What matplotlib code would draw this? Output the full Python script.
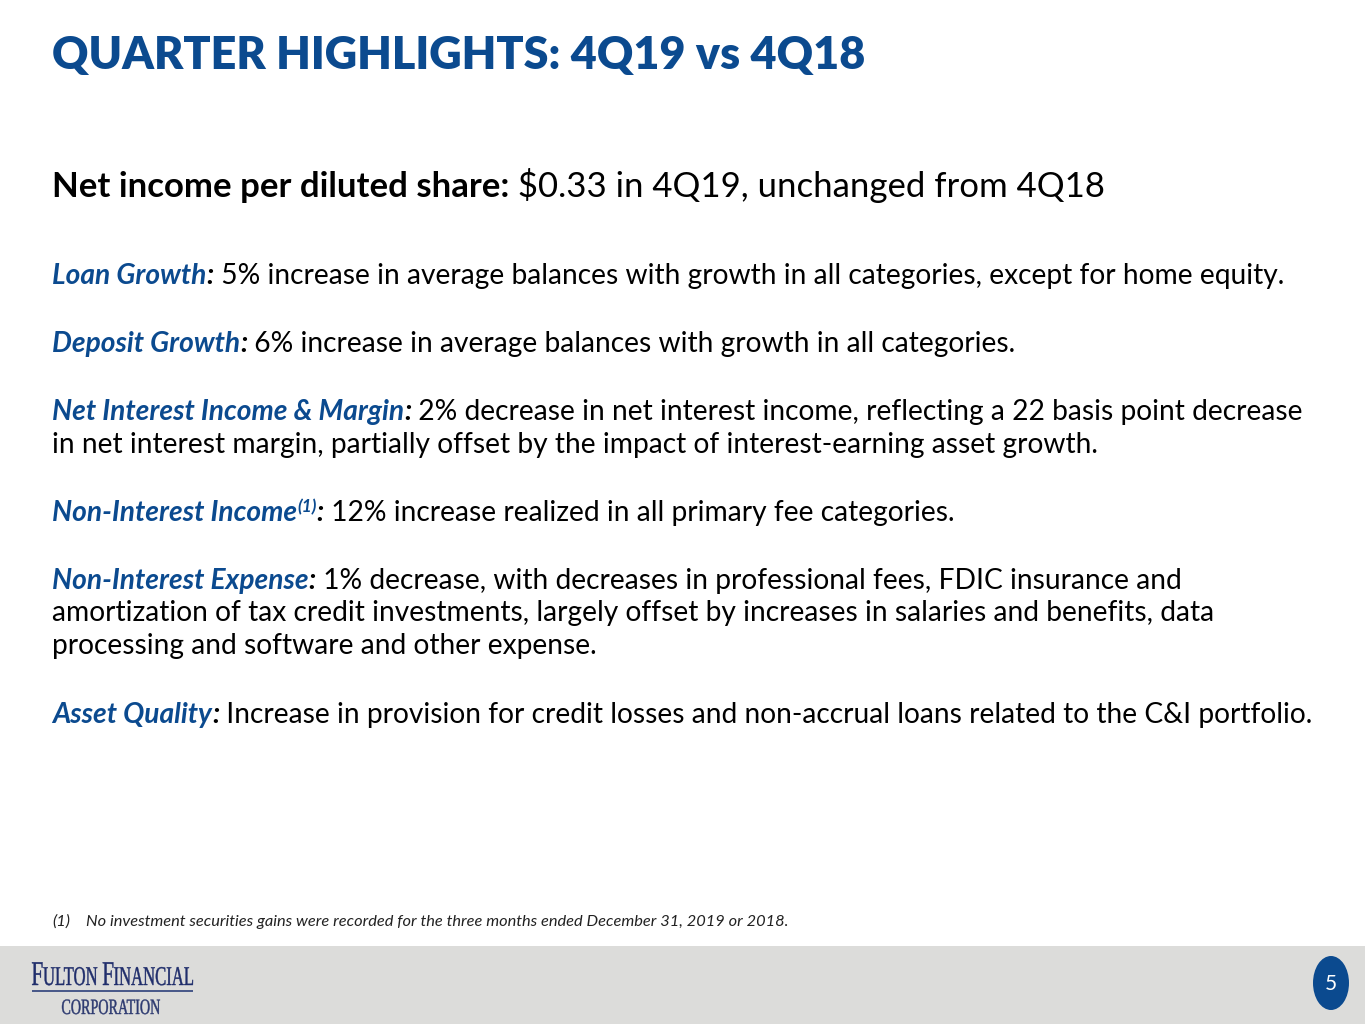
import matplotlib
matplotlib.use("Agg")
import matplotlib.pyplot as plt
from matplotlib.patches import Rectangle, Ellipse, PathPatch
from matplotlib.textpath import TextPath
from matplotlib.font_manager import FontProperties
from matplotlib.transforms import Affine2D

W, H = 1365, 1024
BLUE = "#0b4a8f"
NAVY = "#1f2d6b"
FONT = "Lato"

title = "QUARTER HIGHLIGHTS: 4Q19 vs 4Q18"
eps_label = "Net income per diluted share:"
eps_text = " \\$0.33 in 4Q19, unchanged from 4Q18"

labels = ["Loan Growth", "Deposit Growth", "Net Interest Income & Margin",
          "Non-Interest Income", "Non-Interest Expense", "Asset Quality"]
footnote_flag = [False, False, False, True, False, False]
bodies = [
    ["5% increase in average balances with growth in all categories, except for home equity."],
    ["6% increase in average balances with growth in all categories."],
    ["2% decrease in net interest income, reflecting a 22 basis point decrease",
     "in net interest margin, partially offset by the impact of interest-earning asset growth."],
    ["12% increase realized in all primary fee categories."],
    ["1% decrease, with decreases in professional fees, FDIC insurance and",
     "amortization of tax credit investments, largely offset by increases in salaries and benefits, data",
     "processing and software and other expense."],
    ["Increase in provision for credit losses and non-accrual loans related to the C&I portfolio."],
]
footnote = "No investment securities gains were recorded for the three months ended December 31, 2019 or 2018."
page = "5"

fig = plt.figure(figsize=(W / 100, H / 100), dpi=100)
fig.patch.set_facecolor("white")
renderer = fig.canvas.get_renderer()


def fx(x):
    return x / W


def fy(y):
    return 1 - y / H


def measure(s, props):
    # pad with a dot so trailing spaces count
    t = fig.text(0, 0, s + ".", **props)
    d = fig.text(0, 0, ".", **props)
    w = t.get_window_extent(renderer).width - d.get_window_extent(renderer).width
    t.remove()
    d.remove()
    return w


def draw_segs(x, y, segs):
    for s, props, dy in segs:
        fig.text(fx(x), fy(y - dy), s, va="baseline", ha="left", **props)
        x += measure(s, props)
    return x


def fit(segs, target):
    w = sum(measure(s, p) for s, p, _ in segs)
    return target / w


def logo_word(parts, x0, base, width, cap, color):
    # parts: (text, relative size, gap before) -> squeezed to width / cap height in pixels
    fp = FontProperties(family="Liberation Serif")
    placed = []
    x = 0
    for s, rs, gap in parts:
        x += gap
        p = TextPath((0, 0), s, size=rs, prop=fp)
        ext = p.get_extents()
        placed.append((p, x - ext.x0))
        x += ext.width + 0.04
    sx = width / (x - 0.04)
    sy = cap / 0.662
    for p, off in placed:
        tr = Affine2D().translate(off, 0).scale(sx, sy).translate(x0, H - base)
        fig.add_artist(PathPatch(p, transform=tr, facecolor=color, edgecolor=color,
                                 linewidth=0.3, zorder=2))


# title
tprops = dict(family=FONT, weight="heavy", color=BLUE, fontsize=30)
k = fit([(title, tprops, 0)], 812)
tprops["fontsize"] *= k
draw_segs(52, 69, [(title, tprops, 0)])

# subheading
hb = dict(family=FONT, weight="bold", color="black", fontsize=20)
hr = dict(family=FONT, color="black", fontsize=20)
segs = [(eps_label, hb, 0), (eps_text, hr, 0)]
k = fit(segs, 1053)
hb["fontsize"] *= k
hr["fontsize"] *= k
draw_segs(52, 197, segs)

# body
lab = dict(family=FONT, weight="bold", style="italic", color=BLUE, fontsize=18)
col = dict(family=FONT, weight="bold", style="italic", color="black", fontsize=18)
txt = dict(family=FONT, color="black", fontsize=18)
k = fit([(labels[5], lab, 0), (":", col, 0), (" " + bodies[5][0], txt, 0)], 1256)
for p in (lab, col, txt):
    p["fontsize"] *= k
sup = dict(lab, fontsize=lab["fontsize"] * 0.62)

starts = [284, 352, 420, 521, 589, 723]
step = 32.5
for i, name in enumerate(labels):
    segs = [(name, lab, 0)]
    if footnote_flag[i]:
        segs.append(("(1)", sup, 9))
    segs += [(":", col, 0), (" " + bodies[i][0], txt, 0)]
    draw_segs(52, starts[i], segs)
    for j, line in enumerate(bodies[i][1:], start=1):
        draw_segs(52, starts[i] + j * step, [(line, txt, 0)])

# footnote
fn = dict(family=FONT, style="italic", color="#222222", fontsize=10)
k = fit([(footnote, fn, 0)], 701)
fn["fontsize"] *= k
draw_segs(52, 926, [("(1)", fn, 0)])
draw_segs(86, 926, [(footnote, fn, 0)])

# footer band
fig.add_artist(Rectangle((0, 0), 1, fy(946), transform=fig.transFigure,
                         facecolor="#dcdcda", edgecolor="none", zorder=0))
fig.add_artist(Ellipse((fx(1331), fy(983)), 36 / W, 54 / H, transform=fig.transFigure,
                       facecolor=BLUE, edgecolor="none", zorder=1))
fig.text(fx(1331), fy(984), page, ha="center", va="center", color="white",
         family=FONT, fontsize=15, zorder=2)

# logo
logo_word([("F", 1.0, 0), ("ULTON", 0.78, 0), ("F", 1.0, 0.22), ("INANCIAL", 0.78, 0)],
          32, 985, 161, 23, NAVY)
fig.add_artist(Rectangle((fx(32), fy(992)), 161 / W, 2 / H, transform=fig.transFigure,
                         facecolor="#4a5a8a", edgecolor="none", zorder=1))
logo_word([("CORPORATION", 1.0, 0)], 62, 1014, 98, 14.5, "#2d3a70")

fig.savefig("out.png", dpi=100, facecolor="white")
